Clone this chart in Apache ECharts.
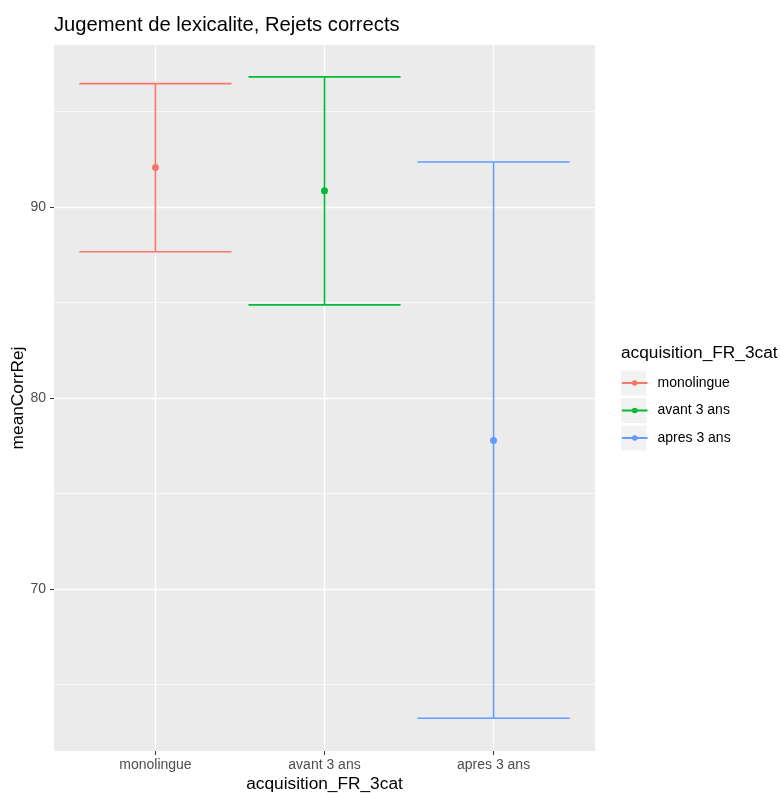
<!DOCTYPE html>
<html>
<head>
<meta charset="utf-8">
<script src="https://cdn.jsdelivr.net/npm/echarts@6/dist/echarts.min.js"></script>
<style>html,body{margin:0;padding:0;background:#fff;overflow:hidden;}#chart{width:780px;height:793px;position:absolute;left:0;top:0;}</style>
</head>
<body>
<div id="chart"></div>
<script>
const categories = ['monolingue', 'avant 3 ans', 'apres 3 ans'];
const meanValues = [92.06, 90.84, 77.78];
const lowerValues = [87.65, 84.87, 63.24];
const upperValues = [96.45, 96.80, 92.35];
const yTicks = [70, 80, 90];
const yMinorTicks = [65, 75, 85, 95];
const xPositions = [1, 2, 3];
const colors = ['#F8766D', '#00BA38', '#619CFF'];

const FONT = '"Liberation Sans", Arial, Helvetica, sans-serif';
const yMin = 61.53, yMax = 98.47;

const chart = echarts.init(document.getElementById('chart'), null, {renderer: 'canvas', width: 780, height: 793});

const series = [];
categories.forEach((c, i) => {
  series.push({
    type: 'custom',
    name: c + '_err',
    z: 2,
    silent: true,
    data: [[xPositions[i], lowerValues[i], upperValues[i]]],
    encode: {x: 0, y: [1, 2]},
    renderItem: function (params, api) {
      const x = api.value(0), lo = api.value(1), hi = api.value(2);
      const pLo = api.coord([x, lo]);
      const pHi = api.coord([x, hi]);
      const halfW = api.size([0.45, 0])[0];
      const st = {stroke: colors[i], lineWidth: 1.6};
      return {
        type: 'group',
        children: [
          {type: 'line', shape: {x1: pLo[0], y1: pLo[1], x2: pHi[0], y2: pHi[1]}, style: st},
          {type: 'line', shape: {x1: pHi[0] - halfW, y1: pHi[1], x2: pHi[0] + halfW, y2: pHi[1]}, style: st},
          {type: 'line', shape: {x1: pLo[0] - halfW, y1: pLo[1], x2: pLo[0] + halfW, y2: pLo[1]}, style: st}
        ]
      };
    }
  });
});
categories.forEach((c, i) => {
  series.push({
    type: 'line',
    name: c,
    z: 5,
    symbol: 'circle',
    symbolSize: 7,
    showSymbol: true,
    itemStyle: {color: colors[i]},
    lineStyle: {color: colors[i], width: 1.6},
    data: [[xPositions[i], meanValues[i]]]
  });
});

const legendTop = 375;
const legendStep = 27.5;
const legendLineH = 16;
const keyRects = categories.map((c, i) => ({
  type: 'rect',
  left: 621,
  top: legendTop + legendLineH / 2 - 12.5 + i * legendStep,
  shape: {width: 25.5, height: 25},
  style: {fill: '#F2F2F2'},
  z: -1,
  silent: true
}));

const option = {
  animation: false,
  backgroundColor: '#ffffff',
  textStyle: {fontFamily: FONT},
  title: [
    {text: 'Jugement de lexicalite, Rejets corrects', left: 54, top: 15, padding: 0,
     textStyle: {fontFamily: FONT, fontSize: 20.2, fontWeight: 'normal', color: '#000000'}},
    {text: 'acquisition_FR_3cat', left: 621, top: 345, padding: 0,
     textStyle: {fontFamily: FONT, fontSize: 17.3, fontWeight: 'normal', color: '#000000'}}
  ],
  grid: {left: 54, right: 185, top: 45, bottom: 42, show: true, backgroundColor: '#EBEBEB', borderWidth: 0,
         containLabel: false, outerBoundsMode: 'none'},
  legend: {
    orient: 'vertical',
    left: 621,
    top: legendTop,
    padding: 0,
    itemWidth: 25.5,
    itemHeight: 7,
    itemGap: legendStep - legendLineH,
    data: categories,
    selectedMode: false,
    textStyle: {fontFamily: FONT, fontSize: 14, lineHeight: legendLineH, color: '#000000', padding: [0, 0, 0, 5]}
  },
  graphic: keyRects,
  xAxis: {
    type: 'value',
    min: 0.4,
    max: 3.6,
    name: 'acquisition_FR_3cat',
    nameLocation: 'middle',
    nameGap: 25,
    nameMoveOverlap: false,
    nameTextStyle: {fontFamily: FONT, fontSize: 17.3, color: '#000000'},
    axisLine: {show: false},
    axisTick: {show: true, customValues: xPositions, length: 4, lineStyle: {color: '#333333', width: 1}},
    axisLabel: {customValues: xPositions, margin: 7, fontFamily: FONT, fontSize: 14, color: '#4D4D4D',
      formatter: v => categories[Math.round(v) - 1] || ''},
    splitLine: {show: true, lineStyle: {color: '#ffffff', width: 1.3}}
  },
  yAxis: [
    {
      type: 'value',
      min: yMin,
      max: yMax,
      name: 'meanCorrRej',
      nameLocation: 'middle',
      nameGap: 27,
      nameMoveOverlap: false,
      nameTextStyle: {fontFamily: FONT, fontSize: 17.3, color: '#000000'},
      axisLine: {show: false},
      axisTick: {show: true, customValues: yTicks, length: 4, lineStyle: {color: '#333333', width: 1}},
      axisLabel: {customValues: yTicks, margin: 8, fontFamily: FONT, fontSize: 14, color: '#4D4D4D'},
      splitLine: {show: true, lineStyle: {color: '#ffffff', width: 1.3}},
      z: 1
    },
    {
      type: 'value',
      min: yMin,
      max: yMax,
      position: 'left',
      axisLine: {show: false},
      axisTick: {show: false, customValues: yMinorTicks},
      axisLabel: {show: false, customValues: yMinorTicks},
      splitLine: {show: true, lineStyle: {color: '#ffffff', width: 0.65}},
      z: 1
    }
  ],
  series: series
};
chart.setOption(option);
</script>
</body>
</html>
